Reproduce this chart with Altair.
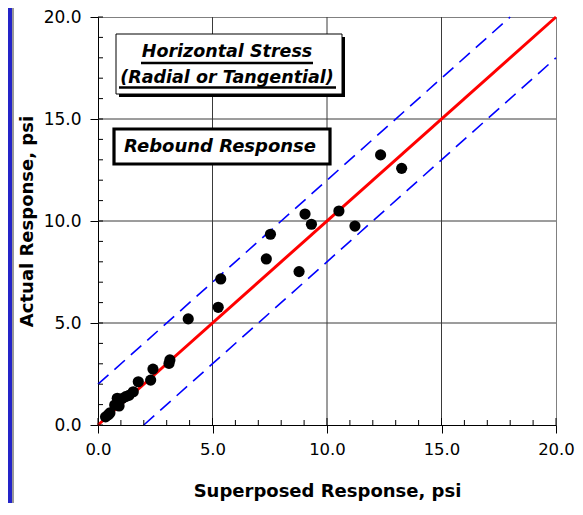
import altair as alt
import pandas as pd

# ---- data ----
superposed = [0.33, 0.45, 0.52, 0.73, 0.84, 0.92, 1.05, 1.21, 1.35, 1.54, 1.76, 2.30,
              2.40, 3.10, 3.14, 3.94, 5.25, 5.36, 7.35, 7.53, 8.78, 9.04, 9.32,
              10.52, 11.22, 12.34, 13.26]
actual = [0.40, 0.50, 0.59, 0.98, 1.31, 0.93, 1.30, 1.39, 1.45, 1.63, 2.12, 2.20,
          2.74, 3.02, 3.19, 5.20, 5.77, 7.16, 8.14, 9.35, 7.52, 10.34, 9.84,
          10.49, 9.75, 13.24, 12.58]

major_ticks = [0, 5, 10, 15, 20]
minor_ticks = [1, 2, 3, 4, 6, 7, 8, 9, 11, 12, 13, 14, 16, 17, 18, 19]
grid_vals = [5, 10, 15]

equal_x = [0, 20]
equal_y = [0, 20]
upper_x = [0, 18]
upper_y = [2, 20]
lower_x = [2, 20]
lower_y = [0, 18]

title_lines = ["Horizontal Stress", "(Radial or Tangential)"]
label_text = "Rebound Response"

W, H = 458, 408
PAD_L, PAD_T, PAD_R, PAD_B = 90, 9, 19, 78
FONT = "DejaVu Sans"

xs = alt.Scale(domain=[0, 20], nice=False, zero=False)
ys = alt.Scale(domain=[0, 20], nice=False, zero=False)

pts = pd.DataFrame({"x": superposed, "y": actual})
one = pd.DataFrame({"a": [0]})

x_axis = alt.Axis(values=major_ticks, format=".1f", title="Superposed Response, psi",
                  grid=False, tickSize=8, tickColor="black", domainColor="black",
                  labelFont=FONT, labelFontSize=16.5, labelColor="black", labelPadding=8,
                  labelFlush=False, labelOverlap=False,
                  titleFont=FONT, titleFontSize=18, titleFontWeight="bold", titleColor="black",
                  titleY=71, titleBaseline="alphabetic")
y_axis = alt.Axis(values=major_ticks, format=".1f", title="Actual Response, psi",
                  grid=False, tickSize=8, tickColor="black", domainColor="black",
                  labelFont=FONT, labelFontSize=17, labelColor="black", labelPadding=9,
                  labelFlush=False, labelOverlap=False,
                  titleFont=FONT, titleFontSize=18, titleFontWeight="bold", titleColor="black",
                  titleAngle=270, titleX=-66, titleY=H / 2, titleBaseline="alphabetic",
                  titleAlign="center")


def X(f):
    return alt.X(f, scale=xs, axis=x_axis)


def Y(f):
    return alt.Y(f, scale=ys, axis=y_axis)


# frame strip on the left edge
strip = alt.Chart(one).mark_rect(color="#2424c8").encode(
    x=alt.value(-PAD_L), x2=alt.value(-PAD_L + 4), y=alt.value(-PAD_T), y2=alt.value(H + PAD_B))
strip_line = alt.Chart(one).mark_rule(color="#555555", strokeWidth=1.2).encode(
    x=alt.value(-PAD_L + 5), y=alt.value(-PAD_T), y2=alt.value(H + PAD_B))

# grid
gx = alt.Chart(pd.DataFrame({"v": grid_vals})).mark_rule(color="#3a3a3a", strokeWidth=1).encode(
    x=X("v:Q"))
gy = alt.Chart(pd.DataFrame({"v": grid_vals})).mark_rule(color="#3a3a3a", strokeWidth=1).encode(
    y=Y("v:Q"))


def line(xv, yv, **kw):
    df = pd.DataFrame({"x": xv, "y": yv})
    return alt.Chart(df).mark_line(**kw).encode(x=X("x:Q"), y=Y("y:Q"))


upper = line(upper_x, upper_y, color="#0000ff", strokeWidth=1.6, strokeDash=[14, 8])
lower = line(lower_x, lower_y, color="#0000ff", strokeWidth=1.6, strokeDash=[14, 8])
equal = line(equal_x, equal_y, color="#ff0000", strokeWidth=3)

axes_carrier = alt.Chart(pts).mark_circle(size=125, opacity=0).encode(
    x=X("x:Q"), y=Y("y:Q"))
points = alt.Chart(pts).mark_circle(size=125, color="black", opacity=1).encode(
    x=X("x:Q"), y=Y("y:Q"))

# inward ticks
xt_minor = alt.Chart(pd.DataFrame({"v": minor_ticks})).mark_rule(color="black").encode(
    x=X("v:Q"), y=alt.value(H), y2=alt.value(H - 5))
xt_major = alt.Chart(pd.DataFrame({"v": major_ticks})).mark_rule(color="black").encode(
    x=X("v:Q"), y=alt.value(H), y2=alt.value(H - 7))
yt_minor = alt.Chart(pd.DataFrame({"v": minor_ticks})).mark_rule(color="black").encode(
    y=Y("v:Q"), x=alt.value(0), x2=alt.value(5))
yt_major = alt.Chart(pd.DataFrame({"v": major_ticks})).mark_rule(color="black").encode(
    y=Y("v:Q"), x=alt.value(0), x2=alt.value(5))

# annotation box 1
shadow1 = alt.Chart(one).mark_rect(color="black").encode(
    x=alt.value(21), x2=alt.value(247), y=alt.value(20), y2=alt.value(80))
box1 = alt.Chart(one).mark_rect(fill="white", stroke="black", strokeWidth=1).encode(
    x=alt.value(18), x2=alt.value(244), y=alt.value(17), y2=alt.value(77))
t1 = alt.Chart(one).mark_text(font=FONT, fontSize=17.5, fontWeight="bold", fontStyle="italic",
                              color="black", align="center", baseline="alphabetic").encode(
    x=alt.value(129), y=alt.value(40), text=alt.value(title_lines[0]))
t2 = alt.Chart(one).mark_text(font=FONT, fontSize=17.5, fontWeight="bold", fontStyle="italic",
                              color="black", align="center", baseline="alphabetic").encode(
    x=alt.value(129), y=alt.value(66), text=alt.value(title_lines[1]))
u1 = alt.Chart(one).mark_rule(color="black", strokeWidth=2.5).encode(
    x=alt.value(43), x2=alt.value(215), y=alt.value(46))
u2 = alt.Chart(one).mark_rule(color="black", strokeWidth=2.5).encode(
    x=alt.value(21), x2=alt.value(238), y=alt.value(70.5))

# annotation box 2
box2 = alt.Chart(one).mark_rect(fill="white", stroke="black", strokeWidth=3.2).encode(
    x=alt.value(16), x2=alt.value(232), y=alt.value(112), y2=alt.value(147))
t3 = alt.Chart(one).mark_text(font=FONT, fontSize=18, fontWeight="bold", fontStyle="italic",
                              color="black", align="center", baseline="alphabetic").encode(
    x=alt.value(122), y=alt.value(135), text=alt.value(label_text))

chart = alt.layer(
    axes_carrier, strip, strip_line, gx, gy, upper, lower, equal, points,
    xt_minor, xt_major, yt_minor, yt_major,
    shadow1, box1, u1, u2, t1, t2, box2, t3
).properties(
    width=W, height=H,
    autosize=alt.AutoSizeParams(type="none"),
    padding={"left": PAD_L, "top": PAD_T, "right": PAD_R, "bottom": PAD_B},
    background="white",
).configure_view(stroke="#808080", strokeWidth=1)

chart.save("out.html", embed_options={"renderer": "svg", "actions": False})
